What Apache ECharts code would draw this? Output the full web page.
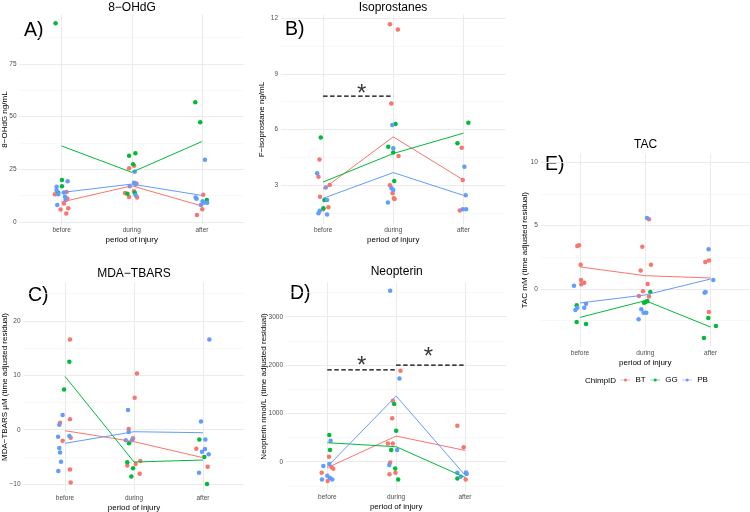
<!DOCTYPE html>
<html><head><meta charset="utf-8">
<script src="https://cdn.jsdelivr.net/npm/echarts@6/dist/echarts.min.js"></script>
<style>html,body{margin:0;padding:0;background:#fff}#c{width:750px;height:512px}</style>
</head><body><div id="c"></div>
<script>
// ---------- categories / groups ----------
const periods = ['before', 'during', 'after'];
const chimps = ['BT', 'GG', 'PB'];

// ---------- raw points: [period (1..3), horizontal jitter, value] ----------
const A_BT = [[1,-0.095,13.2],[1,0.071,14.3],[1,0.081,11.1],[1,0.033,8.8],[1,0.095,6.5],[1,-0.014,5.9],[1,0.067,4.0],
  [2,-0.038,25.5],[2,0.033,26.7],[2,0.067,18.3],[2,0.033,14.6],[2,-0.095,13.8],[2,-0.038,11.9],[2,0.076,11.6],
  [3,0.019,12.9],[3,0.005,6.0],[3,-0.071,3.3]];
const A_GG = [[1,-0.086,94.3],[1,0.005,19.9],[1,0.005,17.0],[1,-0.048,13.9],
  [2,-0.038,31.4],[2,0.052,32.6],[2,0.019,27.4],[2,-0.062,13.4],[2,0.043,13.9],
  [3,-0.095,56.8],[3,-0.024,47.3],[3,0.071,10.4]];
const A_PB = [[1,0.086,19.3],[1,-0.071,16.7],[1,-0.071,15.1],[1,-0.048,13.2],[1,0.033,14.0],[1,0.048,12.0],[1,0.057,10.4],[1,-0.062,8.1],
  [2,0.043,23.9],[2,-0.029,17.0],[2,0.033,18.6],[2,0.052,17.8],[2,0.057,12.7],
  [3,0.043,29.5],[3,-0.09,11.6],[3,-0.076,11.0],[3,0.01,9.9],[3,0.029,9.1],[3,0.076,9.1],[3,-0.014,8.1]];

const B_BT = [[1,-0.052,4.38],[1,-0.066,3.45],[1,0.095,3.0],[1,-0.043,2.37],[1,0.076,1.8],[1,0.0,1.69],
  [2,-0.047,11.69],[2,0.066,11.4],[2,-0.028,7.4],[2,0.076,4.56],[2,-0.047,2.98],[2,-0.009,2.55],[2,0.009,2.28],[2,0.019,2.24],
  [3,-0.024,5.01],[3,-0.009,3.27],[3,-0.052,1.62]];
const B_GG = [[1,-0.033,5.57],[1,0.019,2.19],[1,0.005,1.74],
  [2,0.033,6.29],[2,-0.071,5.07],[2,0.0,4.76],[2,0.014,3.22],
  [3,0.071,6.36],[3,-0.085,5.25]];
const B_PB = [[1,-0.085,3.63],[1,0.038,2.87],[1,0.057,2.19],[1,-0.047,1.61],[1,-0.066,1.47],[1,0.057,1.4],
  [2,-0.014,6.24],[2,0.0,4.98],[2,-0.024,2.82],[2,0.0,2.73],[2,-0.076,2.06],
  [3,0.014,3.99],[3,0.033,2.44],[3,-0.009,1.69],[3,0.038,1.69]];

const C_BT = [[1,0.072,16.6],[1,0.072,1.9],[1,-0.072,1.29],[1,-0.034,-2.02],[1,0.082,-1.47],[1,0.072,-7.3],[1,0.082,-9.7],
  [2,0.043,10.35],[2,0.01,5.88],[2,-0.077,0.12],[2,-0.014,-1.59],[2,0.092,-5.76],[2,0.024,-6.3],[2,-0.097,-6.6],[2,0.082,-8.1],
  [3,-0.097,-3.49],[3,0.068,-6.8]];
const C_GG = [[1,0.063,12.5],[1,-0.014,7.4],
  [2,-0.072,-2.5],[2,-0.097,-6.0],[2,-0.014,-7.1],[2,-0.039,-8.6],
  [3,-0.053,-1.78],[3,0.019,-5.0],[3,0.058,-9.98]];
const C_PB = [[1,-0.034,2.7],[1,-0.082,0.9],[1,0.063,-1.16],[1,-0.1,-1.29],[1,-0.082,-3.37],[1,-0.072,-4.2],[1,-0.058,-5.9],[1,-0.097,-7.6],
  [2,-0.087,3.6],[2,-0.077,-0.43],[2,-0.12,-1.96],[2,-0.029,-1.96],
  [3,0.092,16.6],[3,-0.029,1.53],[3,0.034,-1.78],[3,-0.014,-4.04],[3,0.029,-3.55],[3,0.082,-4.5],[3,-0.058,-7.9]];

const D_BT = [[1,0.024,103],[1,0.063,-117],[1,0.087,-145],[1,-0.082,-228],[1,0.005,-400],
  [2,0.063,1883],[2,-0.048,1262],[2,-0.058,897],[2,-0.12,379],[2,-0.048,379],[2,-0.087,-14],[2,-0.01,-228],[2,-0.097,-262],
  [3,-0.111,745],[3,-0.019,297],[3,0.01,-366]];
const D_GG = [[1,0.029,552],[1,0.039,241],
  [2,-0.029,1193],[2,0.0,641],[2,-0.072,241],[2,-0.014,-138],[2,0.029,-366],
  [3,-0.111,-345]];
const D_PB = [[1,0.048,434],[1,-0.058,-90],[1,0.029,-48],[1,0.0,-290],[1,-0.077,-366],[1,0.039,-338],[1,0.072,-366],
  [2,-0.087,3538],[2,0.048,1724],[2,0.014,241],[2,-0.1,-69],
  [3,-0.111,-228],[3,-0.063,-310],[3,0.014,-221],[3,0.024,-255]];

const E_BT = [[1,-0.015,3.45],[1,-0.041,3.39],[1,0.01,1.92],[1,0.015,0.71],[1,0.02,0.37],[1,0.066,0.5],
  [2,0.056,5.5],[2,-0.046,3.34],[2,-0.071,1.45],[2,0.087,1.92],[2,0.036,0.39],[2,-0.036,-0.18],[2,-0.097,-0.55],[2,0.056,-0.6],
  [3,-0.082,2.13],[3,-0.026,2.24],[3,-0.026,-1.82]];
const E_GG = [[1,-0.051,-1.29],[1,-0.051,-2.6],[1,0.092,-2.76],
  [2,0.077,-0.24],[2,-0.02,-1.08],[2,0.005,-1.03],[2,0.031,-0.95],
  [3,-0.036,-2.29],[3,0.082,-2.92],[3,-0.102,-3.87]];
const E_PB = [[1,-0.092,0.26],[1,0.092,-1.16],[1,-0.041,-1.47],[1,-0.071,-1.66],[1,0.066,-1.47],
  [2,0.026,5.6],[2,-0.061,-1.6],[2,-0.026,-1.87],[2,0.015,-1.87],[2,-0.102,-2.39],
  [3,-0.031,3.13],[3,0.041,0.71],[3,-0.077,-0.24],[3,-0.092,-0.29]];

// ---------- group mean lines (before, during, after) ----------
const A_BT_mean = [9.5, 17.2, 7.6],   A_GG_mean = [36.1, 23.6, 38.2],  A_PB_mean = [14.0, 18.0, 12.6];
const B_BT_mean = [2.78, 5.6, 3.27],  B_GG_mean = [3.16, 4.7, 5.8],    B_PB_mean = [2.28, 3.67, 2.44];
const C_BT_mean = [-0.18, -2.2, -5.14], C_GG_mean = [9.8, -5.94, -5.57], C_PB_mean = [-2.5, -0.37, -0.55];
const D_BT_mean = [-124, 531, 234],   D_GG_mean = [393, 310, -324],    D_PB_mean = [-103, 1359, -276];
const E_BT_mean = [1.74, 1.05, 0.87], E_GG_mean = [-2.24, -0.92, -3.0], E_PB_mean = [-1.1, -0.47, 0.79];

// ---------- tick labels ----------
const A_major = [0, 25, 50, 75],        A_minor = [12.5, 37.5, 62.5, 87.5];
const B_major = [3, 6, 9, 12],          B_minor = [1.5, 4.5, 7.5, 10.5];
const C_major = [-10, 0, 10, 20],       C_minor = [-5, 5, 15, 25];
const D_major = [0, 1000, 2000, 3000],  D_minor = [-500, 500, 1500, 2500, 3500];
const E_major = [0, 5, 10],             E_minor = [-2.5, 2.5, 7.5];

// ---------- significance annotations ----------
const B_sig = [[[1, 7.8], [2, 7.8]]];
const B_star = [[1.55, 8.27]];
const D_sig = [[[1, 1900], [2, 1900]], [[2, 2000], [3, 2000]]];
const D_star = [[1.5, 2103], [2.47, 2290]];

// ---------- styling / layout ----------
const FONT = '"Liberation Sans", Arial, Helvetica, sans-serif';
const COLORS = { BT: '#F8766D', GG: '#00BA38', PB: '#619CFF' };
const MINUS = s => String(s).replace(/-/g, '\u2212');

const panels = [
  { letter: 'A)', title: '8-OHdG', yname: '8-OHdG ng/mL', pts: { BT: A_BT, GG: A_GG, PB: A_PB },
    means: { BT: A_BT_mean, GG: A_GG_mean, PB: A_PB_mean }, major: A_major, minor: A_minor,
    grid: { left: 19.5, top: 14.5, width: 224.5, height: 210.1 }, ymin: -1.23, ymax: 98.5, nameGap: 11,
    titlePos: [132, 8], letterPos: [24, 31], sig: [], star: [] },
  { letter: 'B)', title: 'Isoprostanes', yname: 'F-isoprostane ng/mL', pts: { BT: B_BT, GG: B_GG, PB: B_PB },
    means: { BT: B_BT_mean, GG: B_GG_mean, PB: B_PB_mean }, major: B_major, minor: B_minor,
    grid: { left: 281, top: 14.5, width: 224.5, height: 210.1 }, ymin: 0.86, ymax: 12.21, nameGap: 15,
    titlePos: [393, 8], letterPos: [285, 30], sig: B_sig, star: B_star },
  { letter: 'C)', title: 'MDA-TBARS', yname: 'MDA-TBARS \u00b5M (time adjusted residual)', pts: { BT: C_BT, GG: C_GG, PB: C_PB },
    means: { BT: C_BT_mean, GG: C_GG_mean, PB: C_PB_mean }, major: C_major, minor: C_minor,
    grid: { left: 23.6, top: 282, width: 220.8, height: 210 }, ymin: -11.45, ymax: 27.15, nameGap: 14.6,
    titlePos: [134, 273.3], letterPos: [28, 296], sig: [], star: [] },
  { letter: 'D)', title: 'Neopterin', yname: 'Neopterin nmol/L (time adjusted residual)', pts: { BT: D_BT, GG: D_GG, PB: D_PB },
    means: { BT: D_BT_mean, GG: D_GG_mean, PB: D_PB_mean }, major: D_major, minor: D_minor,
    grid: { left: 286, top: 282, width: 220.3, height: 209 }, ymin: -606, ymax: 3718, nameGap: 18.5,
    titlePos: [396.7, 271.7], letterPos: [290, 294], sig: D_sig, star: D_star },
  { letter: 'E)', title: 'TAC', yname: 'TAC mM (time adjusted residual)', pts: { BT: E_BT, GG: E_GG, PB: E_PB },
    means: { BT: E_BT_mean, GG: E_GG_mean, PB: E_PB_mean }, major: E_major, minor: E_minor,
    grid: { left: 540.8, top: 153.5, width: 209, height: 193.3 }, ymin: -4.56, ymax: 10.69, nameGap: 11.8,
    titlePos: [645.5, 144.3], letterPos: [545, 165], sig: [], star: [] }
];

const grids = [], xAxes = [], yAxes = [], series = [], graphics = [];
const labelStyle = { fontSize: 6.5, color: '#4D4D4D', fontFamily: FONT };
const nameStyle = { fontSize: 8, color: '#000', fontFamily: FONT };

panels.forEach((p, i) => {
  grids.push(Object.assign({ outerBoundsMode: 'none', containLabel: false }, p.grid));
  xAxes.push({
    gridIndex: i, type: 'value', min: 0.4, max: 3.6,
    name: 'period of injury', nameLocation: 'middle', nameGap: 11.5, nameTextStyle: nameStyle, nameMoveOverlap: false,
    axisLine: { show: false }, axisTick: { show: false, customValues: [1, 2, 3] },
    axisLabel: Object.assign({ customValues: [1, 2, 3], margin: 2.5, formatter: v => periods[Math.round(v) - 1] }, labelStyle),
    splitLine: { show: true, lineStyle: { color: '#EBEBEB', width: 1 } }
  });
  yAxes.push({
    gridIndex: i, type: 'value', position: 'left', min: p.ymin, max: p.ymax,
    name: MINUS(p.yname), nameLocation: 'middle', nameRotate: 90, nameGap: p.nameGap, nameTextStyle: nameStyle, nameMoveOverlap: false,
    axisLine: { show: false }, axisTick: { show: false, customValues: p.major },
    axisLabel: Object.assign({ customValues: p.major, margin: 3, formatter: v => MINUS(v) }, labelStyle),
    splitLine: { show: true, lineStyle: { color: '#EBEBEB', width: 1 } }
  });
  yAxes.push({
    gridIndex: i, type: 'value', position: 'left', min: p.ymin, max: p.ymax,
    axisLine: { show: false }, axisTick: { show: false, customValues: p.minor },
    axisLabel: { show: false },
    splitLine: { show: true, lineStyle: { color: '#F4F4F4', width: 0.6 } }
  });
  chimps.forEach(c => {
    series.push({
      type: 'scatter', name: c, xAxisIndex: i, yAxisIndex: 2 * i, silent: true, z: 2,
      symbol: 'circle', symbolSize: 4.5, itemStyle: { color: COLORS[c], opacity: 1 },
      data: p.pts[c].map(r => [r[0] + r[1], r[2]])
    });
  });
  chimps.forEach(c => {
    series.push({
      type: 'line', name: c, xAxisIndex: i, yAxisIndex: 2 * i, silent: true, z: 3,
      symbol: 'none', showSymbol: false, lineStyle: { color: COLORS[c], width: 1 }, itemStyle: { color: COLORS[c] },
      data: p.means[c].map((v, k) => [k + 1, v])
    });
  });
  p.sig.forEach(seg => {
    series.push({
      type: 'line', xAxisIndex: i, yAxisIndex: 2 * i, silent: true, z: 4, symbol: 'none',
      lineStyle: { color: '#000', width: 1.3, type: [4.5, 2.5] }, data: seg
    });
  });
  if (p.star.length) {
    series.push({
      type: 'scatter', xAxisIndex: i, yAxisIndex: 2 * i, silent: true, z: 5,
      symbolSize: 1, itemStyle: { color: 'rgba(0,0,0,0)' },
      label: { show: true, formatter: '*', position: 'inside', offset: [0, 6.5], fontSize: 24, color: '#000', fontFamily: FONT },
      data: p.star
    });
  }
  graphics.push({ type: 'text', x: p.titlePos[0], y: p.titlePos[1], silent: true,
    style: { text: MINUS(p.title), fontSize: 12, fontFamily: FONT, fill: '#000', align: 'center', verticalAlign: 'middle' } });
  graphics.push({ type: 'text', x: p.letterPos[0], y: p.letterPos[1], silent: true,
    style: { text: p.letter, fontSize: 19.5, fontFamily: FONT, fill: '#000', align: 'left', verticalAlign: 'middle' } });
});

graphics.push({ type: 'text', x: 585, y: 380.5, silent: true,
  style: { text: 'ChimpID', fontSize: 8, fontFamily: FONT, fill: '#000', align: 'left', verticalAlign: 'middle' } });

const ICON = 'path://M0,2.2L10,2.2L10,2.8L0,2.8Z M5,0.9A1.6,1.6 0 1 1 4.99,0.9Z';

const chart = echarts.init(document.getElementById('c'), null, { renderer: 'canvas' });
chart.setOption({
  animation: false,
  backgroundColor: '#fff',
  textStyle: { fontFamily: FONT },
  grid: grids, xAxis: xAxes, yAxis: yAxes, series: series,
  legend: {
    left: 620.5, top: 376, orient: 'horizontal', padding: 0, itemWidth: 10, itemHeight: 3.2, itemGap: 4.5,
    selectedMode: false, textStyle: { fontSize: 8, color: '#000', fontFamily: FONT },
    data: chimps.map(c => ({ name: c, icon: ICON }))
  },
  graphic: graphics
});
</script></body></html>
